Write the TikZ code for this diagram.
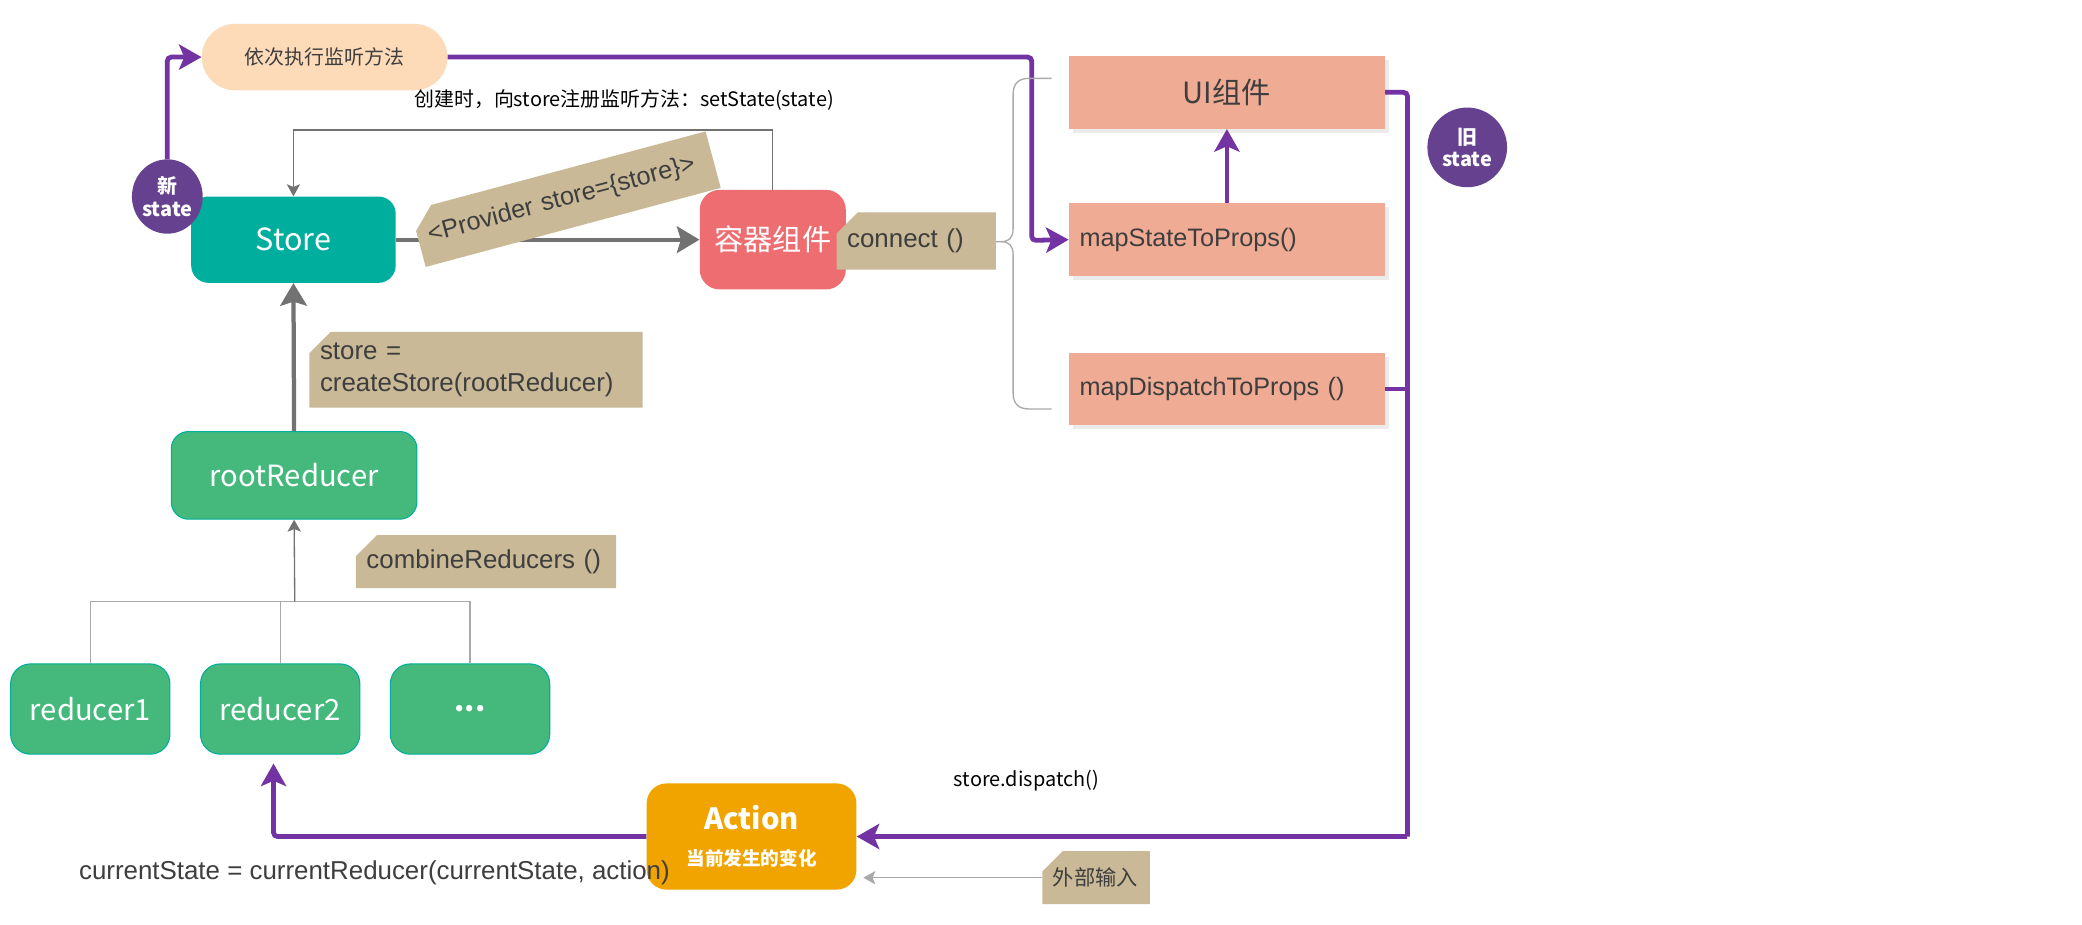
\documentclass[tikz,border=0pt]{standalone}
\usepackage{fontspec}
\setmainfont{Liberation Sans}
\newfontfamily\cjk{Noto Sans CJK SC}
\usetikzlibrary{arrows.meta,shapes.misc,shapes.geometric,shadows}
\definecolor{pline}{HTML}{7333A2}
\definecolor{pcirc}{HTML}{66418F}
\definecolor{cteal}{HTML}{00AE9D}
\definecolor{cgreen}{HTML}{45B97C}
\definecolor{cred}{HTML}{EE6D70}
\definecolor{csalmon}{HTML}{F0AB94}
\definecolor{ctan}{HTML}{C9B997}
\definecolor{corange}{HTML}{F1A400}
\definecolor{cpeach}{HTML}{FDDAB8}
\definecolor{ctext}{HTML}{3E3E3E}
\definecolor{cagray}{HTML}{727272}
\definecolor{clgray}{HTML}{A9A9A9}
\tikzset{
  lbl/.style={font=\cjk\fontsize{22}{26}\selectfont, text=white},
  rbox/.style={rectangle, rounded corners=13pt, inner sep=0pt, lbl},
  tagbox/.style={chamfered rectangle, chamfered rectangle corners=north west,
    chamfered rectangle xsep=8pt, chamfered rectangle ysep=8pt,
    fill=ctan, inner xsep=0pt, inner ysep=0pt, align=left, text=ctext,
    font=\fontsize{19.5}{24}\selectfont},
  uibox/.style={rectangle, fill=csalmon, inner sep=0pt, minimum width=238pt,
    drop shadow={shadow xshift=3pt, shadow yshift=-3pt, fill=black, opacity=0.08}},
  circ/.style={fill=pcirc, text=white, align=center, inner sep=0pt,
    font=\cjk\bfseries\fontsize{15}{20}\selectfont},
  parrow/.style={draw=pline, line width=3.6pt, rounded corners=3pt,
    -{Stealth[length=17pt,width=19pt,inset=4pt]}},
  pline/.style={draw=pline, line width=3.6pt, rounded corners=3pt},
  garrow/.style={draw=cagray, line width=3.2pt,
    -{Stealth[length=17pt,width=20pt,inset=3pt]}},
  tarrow/.style={draw=cagray, line width=1pt,
    -{Stealth[length=9pt,width=10pt,inset=2pt]}},
  tline/.style={draw=clgray, line width=1pt},
  plain/.style={inner sep=0pt}
}
\begin{document}
\begin{tikzpicture}[x=1pt,y=-1pt]
\useasboundingbox (0,0) rectangle (1568,696);
\fill[white] (0,0) rectangle (1568,696);

% ---------- nodes ----------
\node[rectangle, fill=cpeach, rounded corners=25pt, minimum width=185pt,
  minimum height=50pt, inner sep=0pt, text=ctext,
  font=\cjk\fontsize{15}{18}\selectfont] (listen) at (244.5,43) {依次执行监听方法};

\node[plain, text=black, font=\cjk\fontsize{15}{18}\selectfont]
  (regtxt) at (470,75) {创建时，向store注册监听方法：setState(state)};

\node[rbox, fill=cteal, minimum width=154pt, minimum height=65pt,
  font=\cjk\fontsize{23}{26}\selectfont] (store) at (221,180.5) {Store};
\node[ellipse, circ, minimum width=51pt, minimum height=56pt] (newst) at (126,148) {新\\[-3pt]state};

\node[rbox, fill=cred, rounded corners=15pt, minimum width=110pt, minimum height=75pt]
  (cont) at (582,180.5) {容器组件};

\node[uibox, minimum height=55pt, font=\cjk\fontsize{22}{26}\selectfont, text=ctext]
  (ui) at (924,69.5) {UI组件};
\node[uibox, minimum height=55pt, text width=222pt, align=left, inner xsep=8pt,
  font=\fontsize{19}{23}\selectfont, text=ctext] (msp) at (924,180.5) {mapStateToProps()};
\node[uibox, minimum height=54pt, text width=222pt, align=left, inner xsep=8pt,
  font=\fontsize{19}{23}\selectfont, text=ctext] (mdp) at (924,293) {mapDispatchToProps ()};

\node[circle, circ, minimum size=60pt] (oldst) at (1105,111) {旧\\[-3pt]state};

\node[rbox, fill=cgreen, draw=cteal, line width=0.8pt, minimum width=185pt,
  minimum height=66pt] (root) at (221.5,358) {rootReducer};

\node[rbox, fill=cgreen, draw=cteal, line width=0.8pt, rounded corners=15pt,
  minimum width=120pt, minimum height=68pt] (r1) at (68,534) {reducer1};
\node[rbox, fill=cgreen, draw=cteal, line width=0.8pt, rounded corners=15pt,
  minimum width=120pt, minimum height=68pt] (r2) at (211,534) {reducer2};
\node[rbox, fill=cgreen, draw=cteal, line width=0.8pt, rounded corners=15pt,
  minimum width=120pt, minimum height=68pt] (r3) at (354,534) {\bfseries...};

\node[plain, text=black, font=\cjk\fontsize{15}{18}\selectfont]
  (disp) at (773,588) {store.dispatch()};

% ---------- connectors ----------
\coordinate (pj) at (777,181);
\coordinate (rj) at (1060,630);
\coordinate (r2tip) at (206,575);
\coordinate (tj) at (222,453);

\draw[parrow] (newst.north) |- (listen.west);
\draw[parrow] (listen.east) -| (pj) -- (msp.west);
\draw[parrow] (msp.north) -- (ui.south);
\draw[pline] (mdp.east) -- (mdp.east -| rj);

\draw[tarrow] (cont.north) -- ++(0,-45) -| (store.north);
\draw[garrow] (store.east) -- (cont.west);
\draw[garrow] (root.north) -- (store.south);

\draw[tline] (r1.north) -- (r1.north |- tj) -- (r3.north |- tj) -- (r3.north);
\draw[tline] (r2.north) -- (r2.north |- tj);
\draw[tarrow] (tj) -- (root.south);

% brace
\draw[tline] (792,59) -- (775,59) .. controls (767,59) and (763,63) .. (763,71)
  -- (763,172) .. controls (763,179) and (760,182) .. (754,182) -- (748,182);
\draw[tline] (754,182) .. controls (760,182) and (763,185) .. (763,192)
  -- (763,296) .. controls (763,304) and (767,308) .. (775,308) -- (792,308);

% tags (on top of lines)
\node[tagbox, rotate=15, minimum width=230pt, minimum height=44pt, text width=214pt,
  font=\fontsize{19}{23}\selectfont]
  (prov) at (426,150) {<Provider store=\{store\}>};
\node[tagbox, minimum width=120pt, minimum height=43pt, text width=104pt]
  (conn) at (690,181.5) {connect ()};
\node[tagbox, minimum width=251pt, minimum height=57pt, text width=235pt]
  (cstore) at (358.5,278.5) {store =\\createStore(rootReducer)};
\node[tagbox, minimum width=196pt, minimum height=40pt, text width=180pt]
  (comb) at (366,423) {combineReducers ()};

\node[rbox, fill=corange, rounded corners=15pt, minimum width=158pt, minimum height=80pt,
  align=center] (action) at (566,630)
  {{\fontsize{22}{24}\selectfont\bfseries Action}\\[1pt]{\fontsize{14}{16}\selectfont\bfseries 当前发生的变化}};

\draw[pline] (ui.east) -| (rj);
\draw[parrow] (rj) -- (action.east);
\draw[parrow] (action.west) -| (r2tip);

\node[tagbox, minimum width=81pt, minimum height=40pt, text width=65pt,
  font=\cjk\fontsize{16}{19}\selectfont] (ext) at (825.5,661) {外部输入};
\draw[tarrow, draw=clgray] (ext.west) -- ([xshift=5pt]ext.west -| action.east);

\node[plain, text=ctext, font=\fontsize{19.5}{23}\selectfont]
  (curr) at (282,657) {currentState = currentReducer(currentState, action)};
\end{tikzpicture}
\end{document}
